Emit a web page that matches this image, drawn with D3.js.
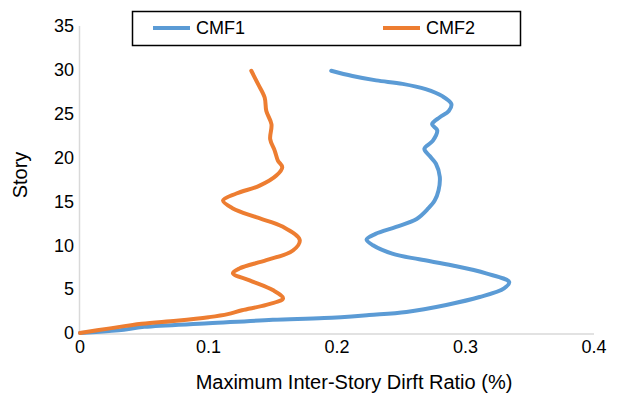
<!DOCTYPE html>
<html><head><meta charset="utf-8">
<script src="https://cdn.jsdelivr.net/npm/d3@7"></script>
<style>body{margin:0;background:#fff}svg{display:block}text{font-family:"Liberation Sans",Arial,sans-serif;fill:#000}</style>
</head><body><svg id="c" width="617" height="394"></svg>
<script>
const seriesNames = ["CMF1", "CMF2"];
const seriesColors = ["#5B9BD5", "#ED7D31"];
const xTicks = [0, 0.1, 0.2, 0.3, 0.4];
const yTicks = [0, 5, 10, 15, 20, 25, 30, 35];
// [drift ratio, story]
const cmf1 = [[0,0],[0.03,0.3],[0.05,0.7],[0.1,1.1],[0.15,1.5],[0.19,1.7],[0.225,2.05],[0.254,2.4],[0.285,3.2],[0.311,4.1],[0.33,5.1],[0.334,5.8],[0.316,6.8],[0.29,7.7],[0.264,8.4],[0.243,9.05],[0.228,10.0],[0.223,10.65],[0.23,11.3],[0.246,12.1],[0.262,13.0],[0.271,14.2],[0.276,15.1],[0.279,16.25],[0.28,17.8],[0.277,19.3],[0.272,20.2],[0.268,21.0],[0.2745,21.9],[0.278,23.1],[0.274,23.8],[0.28,24.6],[0.287,25.3],[0.289,26.1],[0.282,27.0],[0.269,27.8],[0.251,28.4],[0.2305,28.8],[0.212,29.3],[0.1955,29.9]];
const cmf2 = [[0,0],[0.022,0.5],[0.048,1.05],[0.075,1.4],[0.1,1.8],[0.115,2.15],[0.126,2.6],[0.145,3.2],[0.158,3.95],[0.15,4.9],[0.132,6.0],[0.119,6.8],[0.124,7.35],[0.145,8.3],[0.1657,9.4],[0.171,10.6],[0.158,12.1],[0.137,13.2],[0.119,14.2],[0.1113,15.1],[0.1217,15.9],[0.1398,16.8],[0.1528,17.95],[0.1574,18.9],[0.154,19.66],[0.1515,20.8],[0.148,22.1],[0.149,23.8],[0.145,25.3],[0.1437,26.85],[0.1385,28.4],[0.1333,29.9]];
const data = [cmf1, cmf2];

const svg = d3.select("#c");
const x = d3.scaleLinear().domain([0, 0.4]).range([80, 594]);
const y = d3.scaleLinear().domain([0, 35]).range([333, 26]);

svg.append("line").attr("x1", 79.5).attr("x2", 79.5).attr("y1", y(35)).attr("y2", 334).attr("stroke", "#d9d9d9").attr("stroke-width", 1.5);
svg.append("line").attr("x1", 79).attr("x2", 594).attr("y1", 334).attr("y2", 334).attr("stroke", "#d9d9d9").attr("stroke-width", 1.5);

const fmtX = d => d === 0 ? "0" : d.toFixed(1);
svg.append("g").selectAll("text").data(xTicks).join("text")
  .attr("x", d => x(d)).attr("y", 353).attr("text-anchor", "middle")
  .attr("font-size", 18).text(fmtX);
svg.append("g").selectAll("text").data(yTicks).join("text")
  .attr("x", 74).attr("y", d => y(d)).attr("dy", "0.35em").attr("text-anchor", "end")
  .attr("font-size", 18).text(d => d);

svg.append("text").attr("x", 354).attr("y", 389).attr("text-anchor", "middle").attr("font-size", 20)
  .text("Maximum Inter-Story Dirft Ratio (%)");
svg.append("text").attr("transform", "translate(27,175) rotate(-90)").attr("text-anchor", "middle").attr("font-size", 20)
  .text("Story");

const line = d3.line().x(d => x(d[0])).y(d => y(d[1])).curve(d3.curveCatmullRom.alpha(0.5));
svg.append("g").selectAll("path").data(data).join("path")
  .attr("d", line).attr("fill", "none")
  .attr("stroke", (d, i) => seriesColors[i]).attr("stroke-width", 4)
  .attr("stroke-linejoin", "round").attr("stroke-linecap", "round");

svg.append("rect").attr("x", 132.5).attr("y", 11.5).attr("width", 388).attr("height", 34)
  .attr("fill", "#fff").attr("stroke", "#000").attr("stroke-width", 1.5);
const lx = [153, 383];
const lg = svg.append("g").selectAll("g").data(seriesNames).join("g")
  .attr("transform", (d, i) => `translate(${lx[i]},28)`);
lg.append("line").attr("x1", 0).attr("x2", 37).attr("stroke", (d, i) => seriesColors[i]).attr("stroke-width", 4);
lg.append("text").attr("x", 43).attr("dy", "0.35em").attr("font-size", 18).text(d => d);
</script></body></html>
